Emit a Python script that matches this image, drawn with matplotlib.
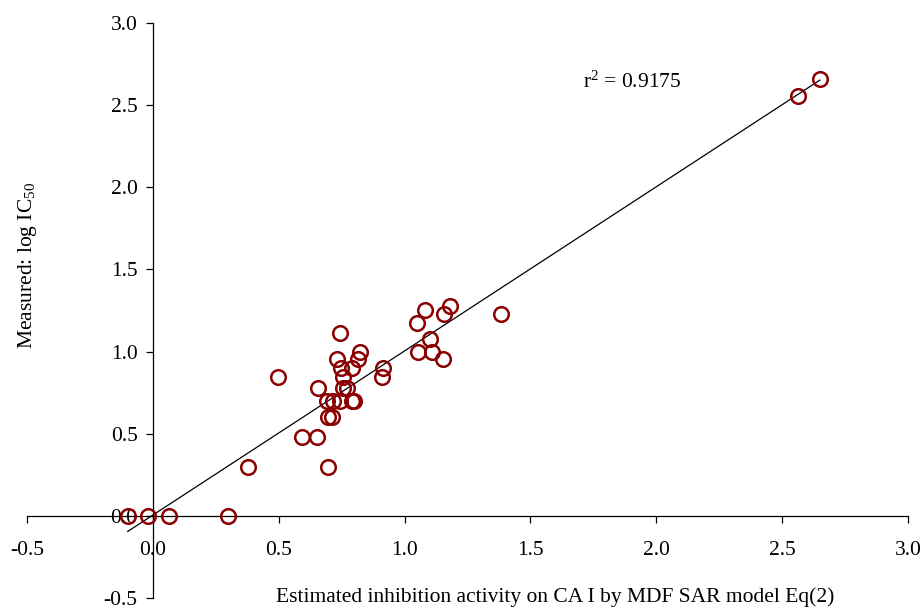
import numpy as np
import matplotlib
matplotlib.use("Agg")
import matplotlib.pyplot as plt

plt.rcParams['font.family'] = ['Liberation Serif', 'DejaVu Serif']
plt.rcParams['mathtext.fontset'] = 'custom'
plt.rcParams['mathtext.rm'] = 'Liberation Serif'
plt.rcParams['mathtext.it'] = 'Liberation Serif:italic'

# Estimated (x) vs measured (y) log IC50
estimated = [-0.10, -0.02, 0.064, 0.30, 0.379, 0.697, 0.591, 0.654, 0.498, 0.657,
             0.697, 0.712, 0.690, 0.717, 0.743, 0.793, 0.798, 0.757, 0.770, 0.757,
             0.743, 0.733, 0.748, 0.790, 0.816, 0.822, 0.915, 0.911, 1.048, 1.081,
             1.158, 1.182, 1.385, 1.100, 1.054, 1.107, 1.153, 2.563, 2.650]
measured = [0.0, 0.0, 0.0, 0.0, 0.30, 0.30, 0.477, 0.477, 0.845, 0.778,
            0.602, 0.602, 0.699, 0.699, 0.699, 0.699, 0.699, 0.778, 0.778, 0.845,
            1.114, 0.954, 0.903, 0.903, 0.954, 1.0, 0.903, 0.845, 1.176, 1.255,
            1.230, 1.279, 1.230, 1.079, 1.0, 1.0, 0.954, 2.556, 2.660]
ticks = [-0.5, 0.0, 0.5, 1.0, 1.5, 2.0, 2.5, 3.0]
tick_labels = ['-0.5', '0.0', '0.5', '1.0', '1.5', '2.0', '2.5', '3.0']
r2_text = r'$\mathrm{r}^2$ = 0.9175'

x = np.array(estimated)
y = np.array(measured)

FS = 15.5

fig = plt.figure(figsize=(9.23, 6.07), dpi=100)
ax = fig.add_axes([27/923, 9/607, 881/923, 575/607])

slope, intercept = np.polyfit(x, y, 1)
xl = np.array([x.min(), x.max()])
ax.plot(xl, slope*xl + intercept, color='black', lw=0.9, zorder=2)

ax.plot(x, y, linestyle='none', marker='o', markersize=10.5, markerfacecolor='none',
        markeredgecolor='#8B0000', markeredgewidth=1.8, zorder=3, clip_on=False)

ax.set_xlim(-0.5, 3.0)
ax.set_ylim(-0.5, 3.0)
ax.spines['left'].set_position(('data', 0))
ax.spines['bottom'].set_position(('data', 0))
ax.spines['top'].set_visible(False)
ax.spines['right'].set_visible(False)
for s in ('left', 'bottom'):
    ax.spines[s].set_linewidth(0.9)

ax.set_xticks(ticks)
ax.set_xticklabels(tick_labels)
ax.set_yticks(ticks)
ax.set_yticklabels(tick_labels)
ax.tick_params(axis='x', direction='out', length=5, width=0.9, pad=13, labelsize=FS)
ax.tick_params(axis='y', direction='out', length=5, width=0.9, pad=6, labelsize=FS)

ax.text(1.71, 2.64, r2_text, fontsize=FS, ha='left', va='center')

fig.text(555/923, 1 - 597/607, 'Estimated inhibition activity on CA I by MDF SAR model Eq(2)',
         fontsize=FS, ha='center', va='center')
fig.text(28/923, 1 - 265/607, r'Measured: log IC$_{\mathrm{50}}$', fontsize=FS,
         rotation=90, ha='center', va='center')

fig.savefig('out.png', dpi=100)
